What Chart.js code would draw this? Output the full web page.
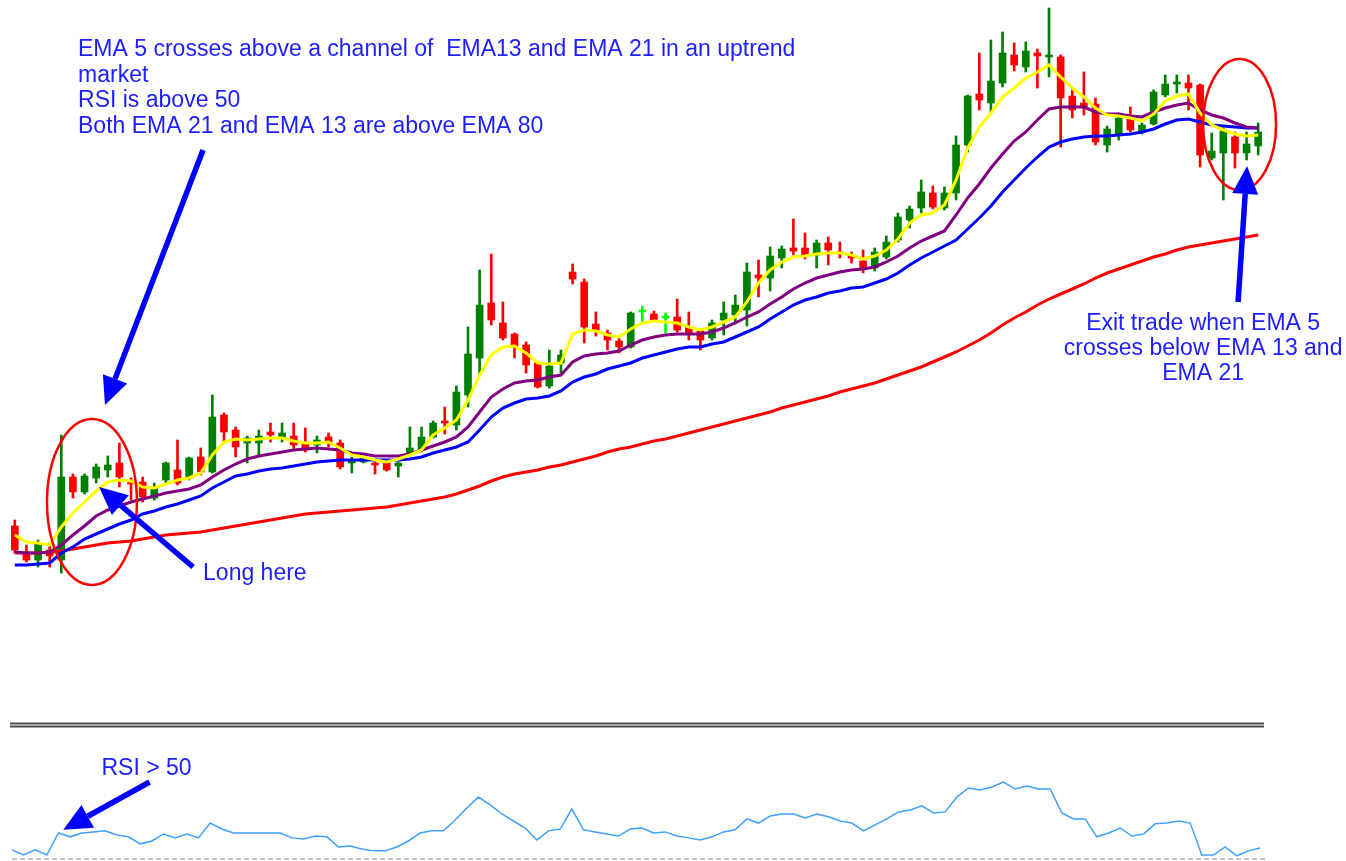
<!DOCTYPE html>
<html>
<head>
<meta charset="utf-8">
<title>EMA 5 / 13 / 21 / 80 channel with RSI</title>
<script src="https://cdn.jsdelivr.net/npm/chart.js@4.4.1/dist/chart.umd.min.js"></script>
<style>
  html, body { margin: 0; padding: 0; background: #ffffff; }
  #wrap { position: relative; width: 1346px; height: 861px; overflow: hidden; background: #ffffff; }
  #priceChart { position: absolute; left: 0; top: 0; }
  #rsiChart { position: absolute; left: 0; top: 729px; }
</style>
</head>
<body>
<div id="wrap">
  <canvas id="priceChart" width="1346" height="729"></canvas>
  <canvas id="rsiChart" width="1346" height="132"></canvas>
</div>
<script>
// OHLC, one value per bar
const open = [
  1.3474,1.3448,1.3440,1.3450,1.3440,1.3523,1.3508,1.3522,1.3530,1.3537,
  1.3519,1.3518,1.3502,1.3520,1.3530,1.3522,1.3543,1.3528,1.3585,1.3570,
  1.3557,1.3557,1.3568,1.3563,1.3564,1.3557,1.3555,1.3563,1.3557,1.3537,
  1.3538,1.3537,1.3537,1.3534,1.3545,1.3550,1.3563,1.3579,1.3575,1.3605,
  1.3642,1.3697,1.3677,1.3666,1.3655,1.3637,1.3614,1.3637,1.3728,1.3718,
  1.3676,1.3667,1.3659,1.3653,1.3688,1.3686,1.3682,1.3683,1.3673,1.3669,
  1.3662,1.3680,1.3685,1.3690,1.3725,1.3722,1.3742,1.3752,1.3752,1.3745,
  1.3757,1.3748,1.3745,1.3739,1.3732,1.3743,1.3760,1.3780,1.3792,1.3807,
  1.3792,1.3807,1.3855,1.3906,1.3897,1.3917,1.3945,1.3933,1.3947,1.3943,
  1.3943,1.3904,1.3897,1.3896,1.3855,1.3865,1.3881,1.3868,1.3876,1.3905,
  1.3916,1.3917,1.3915,1.3842,1.3847,1.3863,1.3847,1.3854
];
const high = [
  1.3480,1.3455,1.3460,1.3457,1.3565,1.3526,1.3526,1.3536,1.3544,1.3557,
  1.3522,1.3523,1.3517,1.3538,1.3560,1.3543,1.3552,1.3605,1.3587,1.3573,
  1.3564,1.3570,1.3577,1.3577,1.3577,1.3572,1.3564,1.3567,1.3560,1.3543,
  1.3544,1.3540,1.3538,1.3538,1.3573,1.3573,1.3579,1.3593,1.3614,1.3673,
  1.3730,1.3746,1.3698,1.3667,1.3658,1.3638,1.3650,1.3650,1.3736,1.3721,
  1.3688,1.3670,1.3664,1.3688,1.3694,1.3689,1.3687,1.3701,1.3688,1.3671,
  1.3680,1.3698,1.3705,1.3737,1.3740,1.3753,1.3754,1.3781,1.3767,1.3760,
  1.3763,1.3758,1.3748,1.3750,1.3752,1.3764,1.3787,1.3794,1.3820,1.3814,
  1.3813,1.3864,1.3905,1.3947,1.3960,1.3968,1.3957,1.3958,1.3951,1.3992,
  1.3945,1.3910,1.3928,1.3902,1.3874,1.3887,1.3893,1.3877,1.3910,1.3925,
  1.3925,1.3925,1.3916,1.3867,1.3872,1.3868,1.3868,1.3877
];
const low = [
  1.3447,1.3438,1.3433,1.3433,1.3427,1.3502,1.3506,1.3517,1.3523,1.3513,
  1.3500,1.3498,1.3500,1.3517,1.3515,1.3520,1.3525,1.3527,1.3557,1.3543,
  1.3537,1.3545,1.3558,1.3558,1.3550,1.3548,1.3547,1.3553,1.3531,1.3527,
  1.3537,1.3526,1.3529,1.3523,1.3544,1.3548,1.3562,1.3566,1.3570,1.3593,
  1.3625,1.3675,1.3660,1.3642,1.3627,1.3612,1.3612,1.3627,1.3716,1.3657,
  1.3664,1.3650,1.3647,1.3652,1.3678,1.3678,1.3667,1.3668,1.3660,1.3650,
  1.3660,1.3665,1.3677,1.3674,1.3703,1.3709,1.3732,1.3745,1.3741,1.3732,
  1.3735,1.3742,1.3737,1.3727,1.3729,1.3741,1.3758,1.3772,1.3787,1.3791,
  1.3790,1.3800,1.3848,1.3890,1.3887,1.3913,1.3929,1.3928,1.3912,1.3923,
  1.3853,1.3882,1.3885,1.3855,1.3848,1.3860,1.3868,1.3866,1.3875,1.3903,
  1.3907,1.3890,1.3833,1.3840,1.3800,1.3832,1.3840,1.3845
];
const close = [
  1.3450,1.3440,1.3457,1.3444,1.3523,1.3508,1.3524,1.3533,1.3535,1.3523,
  1.3516,1.3503,1.3512,1.3537,1.3517,1.3542,1.3528,1.3583,1.3568,1.3553,
  1.3562,1.3564,1.3565,1.3567,1.3555,1.3550,1.3560,1.3557,1.3533,1.3540,
  1.3543,1.3535,1.3530,1.3537,1.3552,1.3563,1.3577,1.3577,1.3608,1.3646,
  1.3695,1.3680,1.3662,1.3653,1.3635,1.3613,1.3634,1.3645,1.3721,1.3673,
  1.3670,1.3660,1.3653,1.3687,1.3688,1.3680,1.3682,1.3670,1.3667,1.3660,
  1.3677,1.3687,1.3695,1.3728,1.3722,1.3744,1.3751,1.3749,1.3744,1.3757,
  1.3750,1.3746,1.3742,1.3732,1.3748,1.3758,1.3783,1.3791,1.3808,1.3793,
  1.3807,1.3855,1.3904,1.3900,1.3919,1.3947,1.3935,1.3949,1.3944,1.3945,
  1.3902,1.3890,1.3893,1.3858,1.3871,1.3882,1.3870,1.3875,1.3908,1.3916,
  1.3918,1.3912,1.3845,1.3849,1.3869,1.3847,1.3856,1.3868
];

// moving averages as drawn on the chart
const ema5 = [
  1.3465,1.3458,1.3457,1.3455,1.3473,1.3487,1.3498,1.3509,1.3518,1.3520,
  1.3519,1.3513,1.3512,1.3516,1.3520,1.3522,1.3527,1.3545,1.3558,1.3561,
  1.3560,1.3561,1.3562,1.3562,1.3559,1.3557,1.3557,1.3558,1.3552,1.3545,
  1.3543,1.3540,1.3538,1.3541,1.3545,1.3550,1.3565,1.3572,1.3580,1.3600,
  1.3625,1.3645,1.3653,1.3654,1.3647,1.3637,1.3636,1.3637,1.3666,1.3670,
  1.3669,1.3665,1.3663,1.3671,1.3677,1.3679,1.3678,1.3677,1.3673,1.3670,
  1.3673,1.3678,1.3683,1.3698,1.3717,1.3730,1.3738,1.3743,1.3744,1.3746,
  1.3747,1.3747,1.3745,1.3741,1.3744,1.3750,1.3761,1.3777,1.3785,1.3787,
  1.3795,1.3820,1.3852,1.3873,1.3887,1.3903,1.3912,1.3922,1.3928,1.3935,
  1.3923,1.3912,1.3903,1.3892,1.3885,1.3884,1.3882,1.3879,1.3886,1.3899,
  1.3904,1.3906,1.3887,1.3875,1.3870,1.3866,1.3864,1.3865
];
const ema13 = [
  1.3448,1.3447,1.3447,1.3448,1.3455,1.3465,1.3474,1.3484,1.3490,1.3494,
  1.3498,1.3501,1.3504,1.3507,1.3509,1.3511,1.3515,1.3523,1.3530,1.3536,
  1.3541,1.3544,1.3546,1.3548,1.3550,1.3551,1.3552,1.3551,1.3550,1.3547,
  1.3546,1.3544,1.3544,1.3544,1.3546,1.3550,1.3554,1.3558,1.3563,1.3573,
  1.3588,1.3603,1.3611,1.3617,1.3619,1.3620,1.3623,1.3625,1.3638,1.3644,
  1.3646,1.3647,1.3649,1.3655,1.3660,1.3663,1.3665,1.3666,1.3666,1.3666,
  1.3668,1.3672,1.3677,1.3683,1.3688,1.3696,1.3703,1.3711,1.3717,1.3722,
  1.3725,1.3728,1.3730,1.3731,1.3733,1.3738,1.3744,1.3752,1.3759,1.3764,
  1.3769,1.3785,1.3802,1.3816,1.3832,1.3846,1.3859,1.3868,1.3880,1.3891,
  1.3893,1.3893,1.3893,1.3888,1.3886,1.3886,1.3884,1.3883,1.3888,1.3892,
  1.3895,1.3897,1.3890,1.3885,1.3882,1.3877,1.3873,1.3872
];
const ema21 = [
  1.3435,1.3435,1.3436,1.3437,1.3447,1.3453,1.3461,1.3466,1.3471,1.3476,
  1.3480,1.3486,1.3489,1.3493,1.3496,1.3500,1.3504,1.3512,1.3518,1.3524,
  1.3526,1.3529,1.3531,1.3532,1.3534,1.3536,1.3538,1.3539,1.3540,1.3540,
  1.3540,1.3540,1.3540,1.3540,1.3541,1.3543,1.3547,1.3550,1.3553,1.3558,
  1.3570,1.3583,1.3592,1.3597,1.3601,1.3602,1.3604,1.3609,1.3618,1.3623,
  1.3626,1.3631,1.3634,1.3637,1.3642,1.3645,1.3648,1.3651,1.3653,1.3653,
  1.3656,1.3658,1.3663,1.3668,1.3673,1.3681,1.3688,1.3695,1.3700,1.3703,
  1.3707,1.3709,1.3712,1.3713,1.3717,1.3721,1.3727,1.3735,1.3742,1.3748,
  1.3754,1.3760,1.3771,1.3782,1.3794,1.3808,1.3820,1.3832,1.3843,1.3853,
  1.3858,1.3861,1.3863,1.3864,1.3864,1.3865,1.3866,1.3868,1.3871,1.3876,
  1.3880,1.3881,1.3878,1.3875,1.3874,1.3873,1.3872,1.3872
];
const ema80 = [
  1.3447,1.3447,1.3447,1.3448,1.3449,1.3451,1.3453,1.3455,1.3457,1.3458,
  1.3459,1.3461,1.3463,1.3465,1.3466,1.3467,1.3468,1.3470,1.3472,1.3474,
  1.3476,1.3478,1.3480,1.3482,1.3484,1.3486,1.3487,1.3488,1.3489,1.3490,
  1.3491,1.3492,1.3493,1.3495,1.3497,1.3499,1.3501,1.3503,1.3506,1.3510,
  1.3514,1.3519,1.3523,1.3526,1.3528,1.3530,1.3533,1.3535,1.3538,1.3541,
  1.3544,1.3548,1.3551,1.3553,1.3556,1.3559,1.3561,1.3564,1.3567,1.3570,
  1.3573,1.3576,1.3579,1.3582,1.3585,1.3588,1.3592,1.3595,1.3598,1.3601,
  1.3604,1.3608,1.3611,1.3614,1.3617,1.3621,1.3625,1.3629,1.3633,1.3638,
  1.3643,1.3648,1.3654,1.3660,1.3667,1.3675,1.3682,1.3688,1.3695,1.3701,
  1.3706,1.3711,1.3716,1.3722,1.3727,1.3731,1.3735,1.3739,1.3743,1.3746,
  1.3750,1.3753,1.3755,1.3757,1.3759,1.3761,1.3763,1.3765
];

// RSI sub window
const rsi = [
  53.5,51.5,53.5,51.5,60.0,58.5,60.0,60.4,60.8,59.2,
  58.5,55.8,56.9,59.6,58.1,59.6,58.1,63.8,61.5,60.0,
  60.0,60.0,60.0,60.0,58.1,57.7,58.8,58.5,54.6,55.0,
  53.8,53.1,53.1,54.6,56.9,60.0,60.8,60.8,65.0,69.6,
  73.8,70.8,67.3,64.6,61.9,57.3,60.8,61.5,69.2,61.2,
  60.4,59.6,58.8,61.5,61.9,60.0,60.4,58.8,58.1,57.3,
  58.5,60.4,61.2,65.4,63.8,66.5,67.3,67.3,65.8,67.3,
  66.2,64.6,63.8,60.8,63.1,65.4,68.1,68.8,70.4,67.7,
  68.1,73.8,77.3,76.5,77.7,79.6,76.9,78.1,76.9,76.9,
  67.7,65.4,65.4,58.5,60.0,61.9,58.8,59.6,63.5,63.8,
  64.6,63.8,51.5,51.5,54.6,51.2,53.1,54.2
];
const RSI_LEVEL = 50;

const barLabels = open.map((_, i) => 'bar ' + (i + 1));

const GREEN = '#008000';
const RED = '#ff0000';
const LIME = '#00ff00';
const NOTE_BLUE = '#2020ff';
const ARROW_BLUE = '#0000ff';
const NOTE_FONT = '23px "Liberation Sans", Arial, sans-serif';

function candleColour(i) {
  if (open[i] === close[i]) return LIME;
  return close[i] > open[i] ? GREEN : RED;
}
const candleColours = open.map((_, i) => candleColour(i));

// annotations, placed in data units (bar index, price / rsi)
const entryZone = { x: 6.64, y: 1.3498, rx: 3.87, ry: 0.0083 };
const exitZone = { x: 105.4, y: 1.38755, rx: 3.14, ry: 0.00655 };
const priceArrows = [
  { from: [16.2, 1.3850], to: [7.76, 1.3595] },
  { from: [15.34, 1.3433], to: [7.25, 1.3513] },
  { from: [105.27, 1.3698], to: [106.04, 1.3834] }
];
const setupText = {
  x: 5.44, y: 1.3944, lineGap: 25.5, align: 'left',
  lines: [
    'EMA 5 crosses above a channel of  EMA13 and EMA 21 in an uptrend',
    'market',
    'RSI is above 50',
    'Both EMA 21 and EMA 13 are above EMA 80'
  ]
};
const longText = { x: 16.2, y: 1.3420, lineGap: 25, align: 'left', lines: ['Long here'] };
const exitText = {
  x: 102.26, y: 1.3670, lineGap: 25, align: 'center',
  lines: ['Exit trade when EMA 5', 'crosses below EMA 13 and', 'EMA 21']
};
const rsiArrow = { from: [11.81, 79.6], to: [4.41, 61.2] };
const rsiText = { x: 7.68, y: 82.3, lineGap: 25, align: 'left', lines: ['RSI > 50'] };

function drawArrow(ctx, x1, y1, x2, y2) {
  const ang = Math.atan2(y2 - y1, x2 - x1);
  const headLen = 28, headHalf = 13;
  const bx = x2 - headLen * Math.cos(ang);
  const by = y2 - headLen * Math.sin(ang);
  ctx.save();
  ctx.strokeStyle = ARROW_BLUE;
  ctx.fillStyle = ARROW_BLUE;
  ctx.lineWidth = 5.5;
  ctx.beginPath();
  ctx.moveTo(x1, y1);
  ctx.lineTo(bx, by);
  ctx.stroke();
  ctx.beginPath();
  ctx.moveTo(x2, y2);
  ctx.lineTo(bx + headHalf * Math.sin(ang), by - headHalf * Math.cos(ang));
  ctx.lineTo(bx - headHalf * Math.sin(ang), by + headHalf * Math.cos(ang));
  ctx.closePath();
  ctx.fill();
  ctx.restore();
}

function drawNote(ctx, xs, ys, note) {
  ctx.save();
  ctx.font = NOTE_FONT;
  ctx.fillStyle = NOTE_BLUE;
  ctx.textAlign = note.align;
  ctx.textBaseline = 'alphabetic';
  const px = xs.getPixelForValue(note.x);
  const py = ys.getPixelForValue(note.y);
  note.lines.forEach((t, k) => ctx.fillText(t, px, py + k * note.lineGap));
  ctx.restore();
}

function drawZone(ctx, xs, ys, z) {
  const cx = xs.getPixelForValue(z.x);
  const cy = ys.getPixelForValue(z.y);
  const rx = Math.abs(xs.getPixelForValue(z.x + z.rx) - cx);
  const ry = Math.abs(ys.getPixelForValue(z.y + z.ry) - cy);
  ctx.save();
  ctx.strokeStyle = RED;
  ctx.lineWidth = 2.5;
  ctx.beginPath();
  ctx.ellipse(cx, cy, rx, ry, 0, 0, Math.PI * 2);
  ctx.stroke();
  ctx.restore();
}

const priceNotes = {
  id: 'priceNotes',
  afterDraw(chart) {
    const { ctx, chartArea } = chart;
    const xs = chart.scales.x, ys = chart.scales.y;

    drawZone(ctx, xs, ys, entryZone);
    drawZone(ctx, xs, ys, exitZone);
    priceArrows.forEach(a => drawArrow(ctx,
      xs.getPixelForValue(a.from[0]), ys.getPixelForValue(a.from[1]),
      xs.getPixelForValue(a.to[0]), ys.getPixelForValue(a.to[1])));
    drawNote(ctx, xs, ys, setupText);
    drawNote(ctx, xs, ys, longText);
    drawNote(ctx, xs, ys, exitText);

    // double separator between the price window and the RSI window
    ctx.save();
    ctx.strokeStyle = '#4a4a4a';
    ctx.lineWidth = 2;
    [chartArea.bottom - 5.5, chartArea.bottom - 2.5].forEach(yy => {
      ctx.beginPath();
      ctx.moveTo(chartArea.left + 1, yy);
      ctx.lineTo(chartArea.right, yy);
      ctx.stroke();
    });
    ctx.restore();
  }
};

function emaLine(label, data, colour, order) {
  return {
    type: 'line', label, data,
    borderColor: colour, borderWidth: 3,
    pointRadius: 0, tension: 0, fill: false, order
  };
}

new Chart(document.getElementById('priceChart').getContext('2d'), {
  type: 'bar',
  data: {
    labels: barLabels,
    datasets: [
      {
        label: 'wick',
        data: low.map((l, i) => [l, high[i]]),
        backgroundColor: candleColours,
        barThickness: 2, grouped: false, borderWidth: 0, order: 10
      },
      {
        label: 'body',
        data: open.map((o, i) => [o, close[i]]),
        backgroundColor: candleColours,
        barThickness: 7, minBarLength: 2, grouped: false, borderWidth: 0, order: 9
      },
      emaLine('EMA 80', ema80, '#ff0000', 4),
      emaLine('EMA 21', ema21, '#0000ff', 3),
      emaLine('EMA 13', ema13, '#800080', 2),
      emaLine('EMA 5', ema5, '#ffff00', 1)
    ]
  },
  options: {
    responsive: false,
    animation: false,
    events: [],
    layout: { padding: { left: 9, right: 82, top: 0, bottom: 0 } },
    plugins: { legend: { display: false }, tooltip: { enabled: false } },
    scales: {
      x: { display: false, offset: true },
      y: { display: false, min: 1.3271, max: 1.4000 }
    }
  },
  plugins: [priceNotes]
});

const rsiNotes = {
  id: 'rsiNotes',
  beforeDatasetsDraw(chart) {
    const { ctx, chartArea } = chart;
    const yy = chart.scales.y.getPixelForValue(RSI_LEVEL);
    ctx.save();
    ctx.strokeStyle = '#c4c4c4';
    ctx.lineWidth = 2;
    ctx.setLineDash([5, 3]);
    ctx.beginPath();
    ctx.moveTo(chartArea.left + 6, yy);
    ctx.lineTo(chartArea.right, yy);
    ctx.stroke();
    ctx.restore();
  },
  afterDraw(chart) {
    const { ctx } = chart;
    const xs = chart.scales.x, ys = chart.scales.y;
    drawArrow(ctx,
      xs.getPixelForValue(rsiArrow.from[0]), ys.getPixelForValue(rsiArrow.from[1]),
      xs.getPixelForValue(rsiArrow.to[0]), ys.getPixelForValue(rsiArrow.to[1]));
    drawNote(ctx, xs, ys, rsiText);
  }
};

new Chart(document.getElementById('rsiChart').getContext('2d'), {
  type: 'line',
  data: {
    labels: barLabels,
    datasets: [{
      label: 'RSI',
      data: rsi,
      borderColor: '#3fa0ff',
      borderWidth: 1.5,
      pointRadius: 0,
      tension: 0,
      fill: false
    }]
  },
  options: {
    responsive: false,
    animation: false,
    events: [],
    layout: { padding: { left: 6, right: 80, top: 0, bottom: 0 } },
    plugins: { legend: { display: false }, tooltip: { enabled: false } },
    scales: {
      x: { display: false, offset: true },
      y: { display: false, min: 49.2, max: 100 }
    }
  },
  plugins: [rsiNotes]
});
</script>
</body>
</html>
